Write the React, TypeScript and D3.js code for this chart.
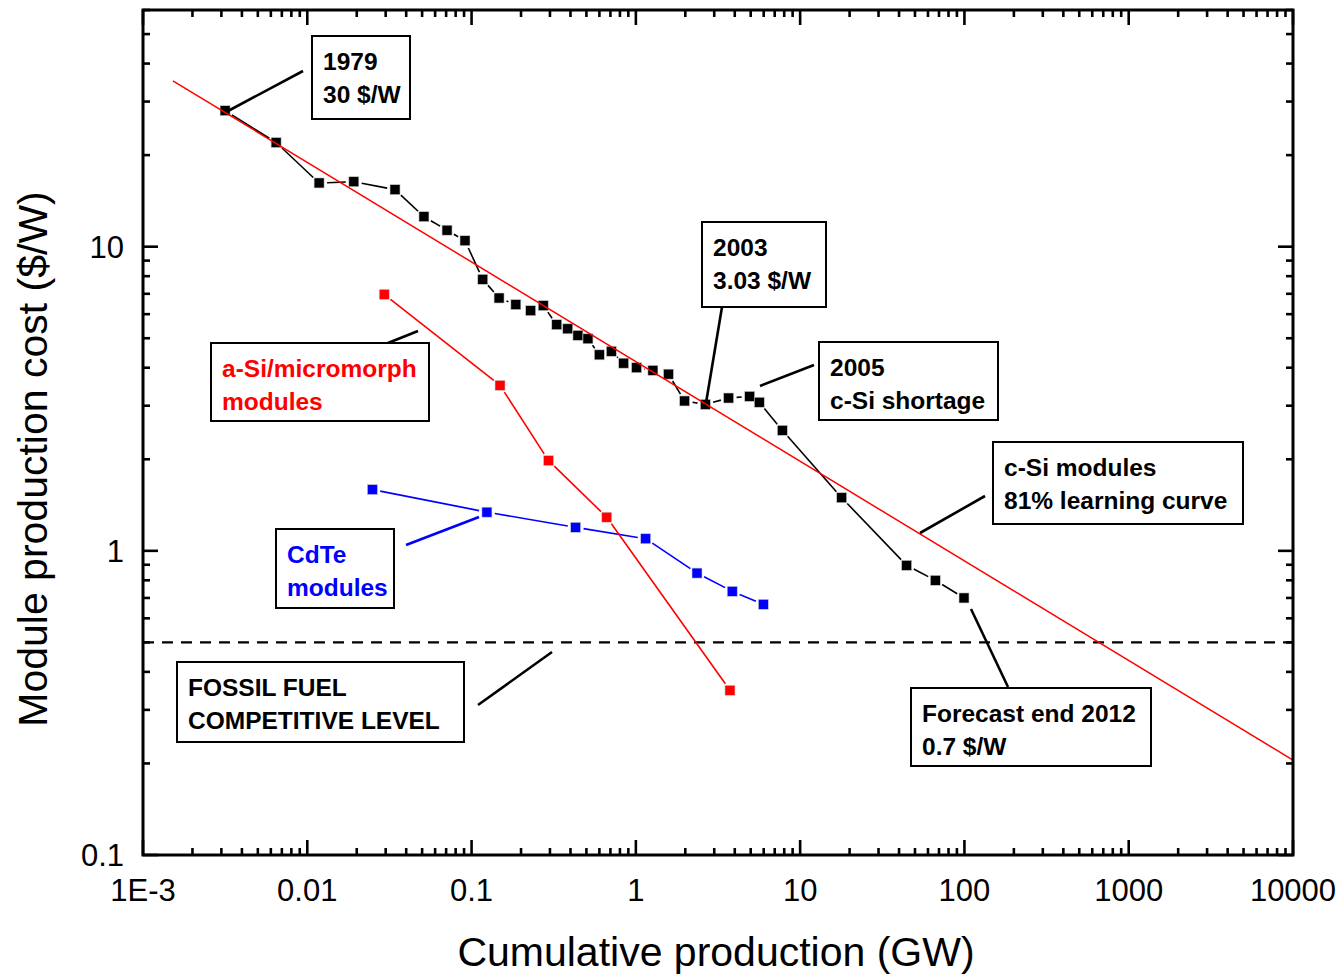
import * as d3 from "d3";
import React from "react";

const WIDTH = 1341;
const HEIGHT = 976;
const MARGIN = { top: 10, right: 48, bottom: 121, left: 143 };

// c-Si modules (black)
const csiX = [0.00316, 0.00646, 0.0118, 0.0192, 0.0342, 0.0513, 0.0709, 0.0912, 0.117, 0.147, 0.186, 0.229, 0.273, 0.33, 0.385, 0.444, 0.511, 0.599, 0.709, 0.843, 1.01, 1.27, 1.58, 1.98, 2.65, 3.67, 4.93, 5.64, 7.79, 17.9, 44.5, 66.5, 99.4];
const csiY = [28.0, 22.0, 16.2, 16.35, 15.4, 12.55, 11.33, 10.46, 7.81, 6.78, 6.45, 6.16, 6.4, 5.54, 5.37, 5.11, 4.98, 4.41, 4.53, 4.14, 4.0, 3.92, 3.81, 3.11, 3.03, 3.18, 3.22, 3.08, 2.49, 1.495, 0.896, 0.8, 0.7];

// a-Si/micromorph modules (red)
const asiX = [0.0294, 0.149, 0.294, 0.665, 3.74];
const asiY = [6.97, 3.5, 1.98, 1.29, 0.348];

// CdTe modules (blue)
const cdteX = [0.0249, 0.124, 0.43, 1.148, 2.356, 3.86, 5.97];
const cdteY = [1.59, 1.34, 1.195, 1.096, 0.845, 0.736, 0.667];

// 81% learning curve end points
const learnX = [0.00152, 10000];
const learnY = [35.1, 0.205];

const fossilLevel = 0.5;

const xTicks = [0.001, 0.01, 0.1, 1, 10, 100, 1000, 10000];
const xTickLabels = ["1E-3", "0.01", "0.1", "1", "10", "100", "1000", "10000"];
const yTicks = [0.1, 1, 10];
const yTickLabels = ["0.1", "1", "10"];

const annotations = [
  { x: 312, y: 36, w: 98, h: 83, lines: ["1979", "30 $/W"], color: "#000", lead: [303, 71, 228, 111] },
  { x: 702, y: 222, w: 124, h: 85, lines: ["2003", "3.03 $/W"], color: "#000", lead: [722, 307, 706, 403] },
  { x: 819, y: 342, w: 179, h: 78, lines: ["2005", "c-Si shortage"], color: "#000", lead: [814, 365, 760, 386] },
  { x: 993, y: 442, w: 250, h: 82, lines: ["c-Si modules", "81% learning curve"], color: "#000", lead: [985, 496, 920, 533] },
  { x: 211, y: 343, w: 218, h: 78, lines: ["a-Si/micromorph", "modules"], color: "#ff0000", lead: [388, 343, 418, 331], leadColor: "#000" },
  { x: 276, y: 529, w: 118, h: 79, lines: ["CdTe", "modules"], color: "#0000ff", lead: [406, 545, 479, 517], leadColor: "#0000ff" },
  { x: 177, y: 662, w: 287, h: 80, lines: ["FOSSIL FUEL", "COMPETITIVE LEVEL"], color: "#000", lead: [478, 705, 552, 652] },
  { x: 911, y: 688, w: 240, h: 78, lines: ["Forecast end 2012", "0.7 $/W"], color: "#000", lead: [1008, 687, 971, 609] },
];

const FONT = "'Liberation Sans', Arial, Helvetica, sans-serif";

function minorTicks(lo: number, hi: number) {
  const out: { v: number; major: boolean }[] = [];
  for (let e = Math.floor(Math.log10(lo)); e <= Math.ceil(Math.log10(hi)); e++) {
    for (let m = 1; m <= 9; m++) {
      const v = m * Math.pow(10, e);
      if (v >= lo * 0.9999 && v <= hi * 1.0001) out.push({ v, major: m === 1 });
    }
  }
  return out;
}

function Series({ xs, ys, x, y, color, size }: any) {
  const pts = xs.map((d: number, i: number) => [x(d), y(ys[i])]);
  const gap = size / 2 + 3;
  const segs = [];
  for (let i = 0; i < pts.length - 1; i++) {
    const [x1, y1] = pts[i];
    const [x2, y2] = pts[i + 1];
    const len = Math.hypot(x2 - x1, y2 - y1);
    if (len <= gap * 2) continue;
    const ux = (x2 - x1) / len;
    const uy = (y2 - y1) / len;
    segs.push(
      <line key={i} x1={x1 + ux * gap} y1={y1 + uy * gap} x2={x2 - ux * gap} y2={y2 - uy * gap} stroke={color} strokeWidth={1.6} />
    );
  }
  return (
    <g>
      {segs}
      {pts.map(([px, py]: number[], i: number) => (
        <rect key={i} x={px - size / 2} y={py - size / 2} width={size} height={size} fill={color} stroke="#ccc" strokeWidth={0.6} />
      ))}
    </g>
  );
}

export default function App() {
  const boundsWidth = WIDTH - MARGIN.left - MARGIN.right;
  const boundsHeight = HEIGHT - MARGIN.top - MARGIN.bottom;

  const x = d3.scaleLog().domain([0.001, 10000]).range([MARGIN.left, MARGIN.left + boundsWidth]);
  const y = d3.scaleLog().domain([0.1, 60]).range([MARGIN.top + boundsHeight, MARGIN.top]);

  const left = MARGIN.left;
  const right = MARGIN.left + boundsWidth;
  const top = MARGIN.top;
  const bottom = MARGIN.top + boundsHeight;

  const xt = minorTicks(0.001, 10000);
  const yt = minorTicks(0.1, 60);
  const MAJ = 15;
  const MIN = 7;

  const learnLine = d3.line<number>()
    .x((d) => x(learnX[d]))
    .y((d) => y(learnY[d]));

  return (
    <svg width={WIDTH} height={HEIGHT} style={{ position: "absolute", left: 0, top: 0, background: "#fff" }} fontFamily={FONT}>
      <rect width={WIDTH} height={HEIGHT} fill="#fff" />

      {/* fossil fuel level */}
      <line x1={left} x2={right} y1={y(fossilLevel)} y2={y(fossilLevel)} stroke="#000" strokeWidth={2.2} strokeDasharray="11,8" />

      {/* data */}
      <Series xs={cdteX} ys={cdteY} x={x} y={y} color="#0000ff" size={10} />
      <Series xs={asiX} ys={asiY} x={x} y={y} color="#ff0000" size={10} />
      <Series xs={csiX} ys={csiY} x={x} y={y} color="#000000" size={10} />

      {/* learning curve */}
      <path d={learnLine([0, 1]) ?? ""} stroke="#ff0000" strokeWidth={1.5} fill="none" />

      {/* annotations */}
      {annotations.map((a, i) => (
        <g key={i}>
          <line x1={a.lead[0]} y1={a.lead[1]} x2={a.lead[2]} y2={a.lead[3]} stroke={a.leadColor ?? "#000"} strokeWidth={2.6} />
          <rect x={a.x} y={a.y} width={a.w} height={a.h} fill="#fff" stroke="#000" strokeWidth={2} />
          {a.lines.map((t, j) => (
            <text key={j} x={a.x + 11} y={a.y + 34 + j * 33} fontSize={24.5} fontWeight="bold" fill={a.color}>
              {t}
            </text>
          ))}
        </g>
      ))}

      {/* ticks */}
      {xt.map((t, i) => (
        <g key={"x" + i} stroke="#000" strokeWidth={2.6}>
          <line x1={x(t.v)} x2={x(t.v)} y1={bottom} y2={bottom - (t.major ? MAJ : MIN)} />
          <line x1={x(t.v)} x2={x(t.v)} y1={top} y2={top + (t.major ? MAJ : MIN)} />
        </g>
      ))}
      {yt.map((t, i) => (
        <g key={"y" + i} stroke="#000" strokeWidth={2.6}>
          <line x1={left} x2={left + (t.major ? MAJ : MIN)} y1={y(t.v)} y2={y(t.v)} />
          <line x1={right} x2={right - (t.major ? MAJ : MIN)} y1={y(t.v)} y2={y(t.v)} />
        </g>
      ))}

      {/* frame */}
      <rect x={left} y={top} width={boundsWidth} height={boundsHeight} fill="none" stroke="#000" strokeWidth={3} />

      {/* tick labels */}
      {xTicks.map((t, i) => (
        <text key={"xl" + i} x={x(t)} y={901} textAnchor="middle" fontSize={31} fill="#000">
          {xTickLabels[i]}
        </text>
      ))}
      {yTicks.map((t, i) => (
        <text key={"yl" + i} x={124} y={y(t) + 11} textAnchor="end" fontSize={31} fill="#000">
          {yTickLabels[i]}
        </text>
      ))}

      {/* axis titles */}
      <text x={716} y={966} textAnchor="middle" fontSize={41} fill="#000">
        Cumulative production (GW)
      </text>
      <text transform="translate(47,459) rotate(-90)" textAnchor="middle" fontSize={41} fill="#000">
        Module production cost ($/W)
      </text>
    </svg>
  );
}
